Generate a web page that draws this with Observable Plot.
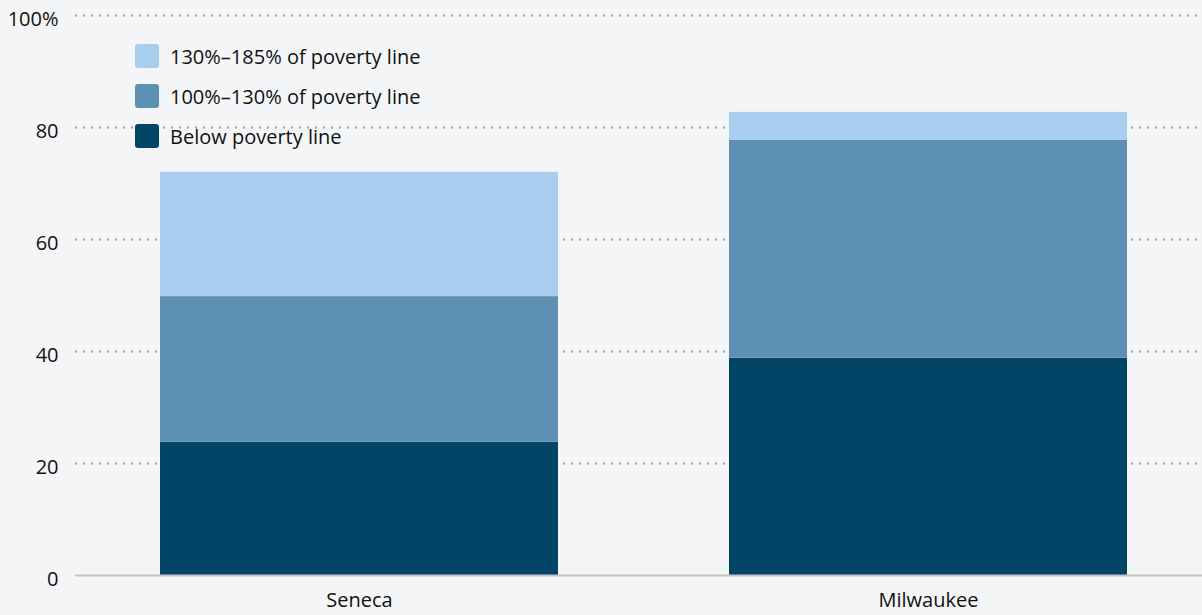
<!DOCTYPE html>
<html>
<head>
<meta charset="utf-8">
<script src="https://cdn.jsdelivr.net/npm/d3@7"></script>
<script src="https://cdn.jsdelivr.net/npm/@observablehq/plot@0.6"></script>
<style>
  html, body { margin: 0; padding: 0; background: #f4f5f7; overflow: hidden; }
  #wrap { position: relative; width: 1202px; height: 615px; font-family: "Open Sans", "Noto Sans", sans-serif; }
  #legend { position: absolute; left: 135px; top: 36px; font-size: 20px; color: #111; }
  .row { display: flex; align-items: center; height: 40px; margin-top: 0; }
  .sw { width: 24px; height: 24px; border-radius: 3px; margin-right: 11px; }
</style>
</head>
<body>
<div id="wrap"><div id="legend"></div></div>
<script>
const places = ["Seneca", "Milwaukee"];
const groups = ["Below poverty line", "100%–130% of poverty line", "130%–185% of poverty line"];
const groupColors = ["#024567", "#5e90b4", "#a9cdef"];
const below = [23.8, 38.8];
const mid = [26.0, 38.9];
const upper = [22.2, 5.0];
const yTicks = [0, 20, 40, 60, 80, 100];

const data = [];
places.forEach((p, i) => {
  data.push({place: p, group: groups[0], value: below[i]});
  data.push({place: p, group: groups[1], value: mid[i]});
  data.push({place: p, group: groups[2], value: upper[i]});
});

const font = "'Open Sans', 'Noto Sans', sans-serif";
const chart = Plot.plot({
  width: 1202,
  height: 615,
  marginTop: 15,
  marginBottom: 40,
  marginLeft: 75,
  marginRight: 0,
  style: {background: "transparent", fontFamily: font, fontSize: "20px", color: "#111", overflow: "visible"},
  x: {domain: places, paddingInner: 0.3, paddingOuter: 0.14, align: 0.53, label: null},
  y: {domain: [0, 100], label: null},
  color: {domain: groups, range: groupColors},
  marks: [
    Plot.ruleY(yTicks.filter(d => d > 0), {stroke: "#9a9a9a", strokeWidth: 2, strokeDasharray: "2,6"}),
    Plot.barY(data, {x: "place", y: "value", fill: "group", order: groups}),
    Plot.ruleY([0], {stroke: "#c4c4c4", strokeWidth: 2}),
    Plot.axisY({ticks: yTicks, tickSize: 0, tickPadding: 17, dy: 4, fontSize: 20,
      tickFormat: d => d === 100 ? "100%" : String(d)}),
    Plot.axisX({tickSize: 0, tickPadding: 17, fontSize: 20, label: null})
  ]
});
document.getElementById("wrap").prepend(chart);

const legend = document.getElementById("legend");
[2, 1, 0].forEach(i => {
  const r = document.createElement("div");
  r.className = "row";
  r.innerHTML = `<div class="sw" style="background:${groupColors[i]}"></div><span>${groups[i]}</span>`;
  legend.appendChild(r);
});
</script>
</body>
</html>
